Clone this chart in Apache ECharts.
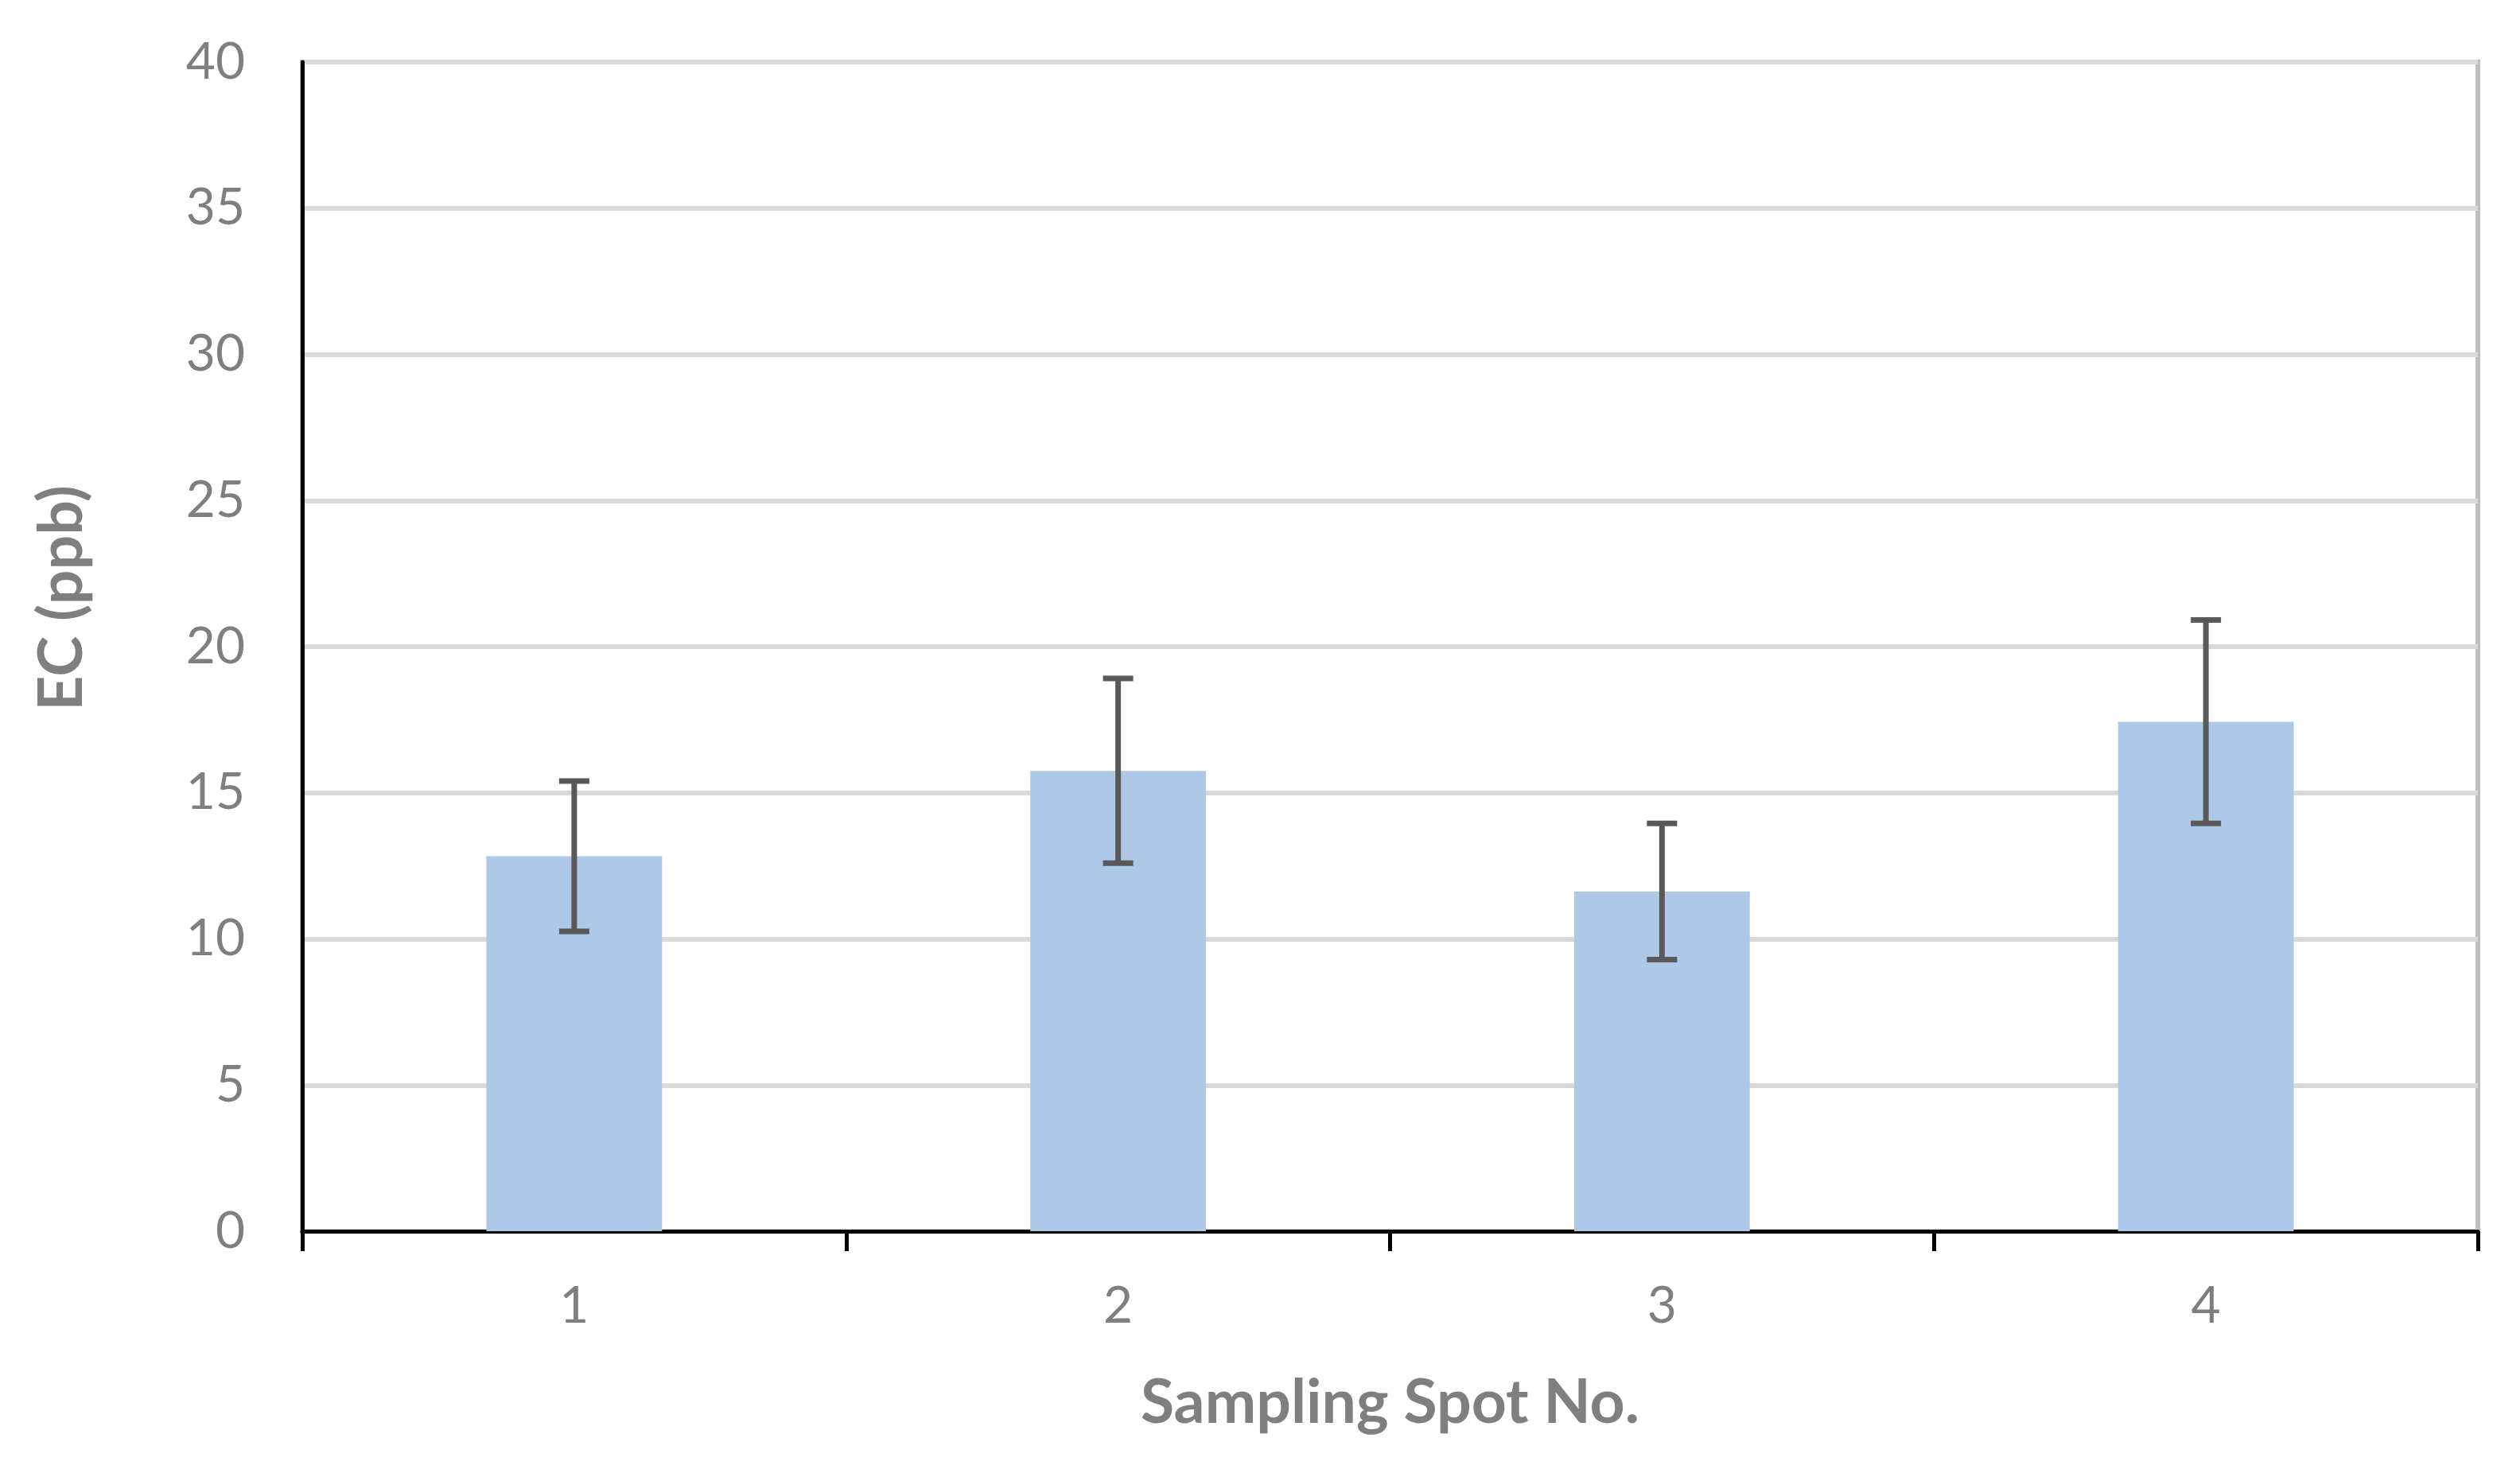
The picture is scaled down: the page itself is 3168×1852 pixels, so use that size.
<!DOCTYPE html>
<html>
<head>
<meta charset="utf-8">
<script src="https://cdn.jsdelivr.net/npm/echarts@6/dist/echarts.min.js"></script>
<style>
  html, body { margin: 0; padding: 0; background: #fff; }
  #chart { width: 3168px; height: 1852px; }
</style>
</head>
<body>
<div id="chart"></div>
<script>
const categories = ['1', '2', '3', '4'];
const ecValues = [12.83, 15.75, 11.62, 17.43];
const ecErrors = [2.57, 3.16, 2.33, 3.48];
const yTicks = { min: 0, max: 40, interval: 5 };

const chart = echarts.init(document.getElementById('chart'));

const errorData = categories.map((c, i) => [i, ecValues[i] - ecErrors[i], ecValues[i] + ecErrors[i]]);

const option = {
  animation: false,
  backgroundColor: '#ffffff',
  grid: {
    left: 380, right: 53, top: 78, bottom: 304,
    show: true, borderColor: '#BFBFBF', borderWidth: 6, backgroundColor: 'transparent'
  },
  xAxis: {
    type: 'category',
    data: categories,
    name: 'Sampling Spot No.',
    nameLocation: 'middle',
    nameGap: 178,
    nameTextStyle: { fontFamily: 'Lato', fontWeight: 'bold', fontSize: 77, color: '#7F7F7F' },
    axisLine: { show: true, lineStyle: { color: '#000000', width: 5 } },
    axisTick: { show: true, alignWithLabel: false, length: 25, lineStyle: { color: '#000000', width: 5 } },
    axisLabel: { fontFamily: 'Lato', fontSize: 64, color: '#7F7F7F', margin: 62 },
    splitLine: { show: false }
  },
  yAxis: {
    type: 'value',
    min: yTicks.min, max: yTicks.max, interval: yTicks.interval,
    name: 'EC (ppb)',
    nameLocation: 'middle',
    nameGap: 263,
    nameRotate: 90,
    nameTextStyle: { fontFamily: 'Lato', fontWeight: 'bold', fontSize: 77, color: '#7F7F7F', padding: [0, 0, 0, 122] },
    axisLine: { show: true, lineStyle: { color: '#000000', width: 5 } },
    axisTick: { show: false },
    axisLabel: { fontFamily: 'Lato', fontSize: 64, color: '#7F7F7F', margin: 72 },
    splitLine: { show: true, lineStyle: { color: '#D9D9D9', width: 6 } }
  },
  series: [
    {
      type: 'bar',
      data: ecValues,
      barWidth: '32.3%',
      itemStyle: { color: '#AEC8E8' },
      z: 2
    },
    {
      type: 'custom',
      data: errorData,
      z: 5,
      encode: { x: 0, y: [1, 2] },
      renderItem: function (params, api) {
        const idx = api.value(0);
        const lo = api.coord([idx, api.value(1)]);
        const hi = api.coord([idx, api.value(2)]);
        const half = 19;
        const style = { stroke: '#595959', lineWidth: 7 };
        return {
          type: 'group',
          children: [
            { type: 'line', shape: { x1: lo[0], y1: lo[1], x2: hi[0], y2: hi[1] }, style: style },
            { type: 'line', shape: { x1: lo[0] - half, y1: lo[1], x2: lo[0] + half, y2: lo[1] }, style: style },
            { type: 'line', shape: { x1: hi[0] - half, y1: hi[1], x2: hi[0] + half, y2: hi[1] }, style: style }
          ]
        };
      }
    }
  ]
};
chart.setOption(option);
</script>
</body>
</html>
